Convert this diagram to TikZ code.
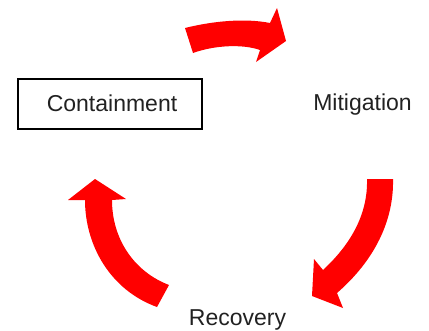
\documentclass[tikz,border=0pt]{standalone}
\usepackage{fontspec}
\setmainfont{Liberation Sans}
\begin{document}
\begin{tikzpicture}[x=1pt,y=-1pt,
  lbl/.style={font=\fontsize{23}{27}\selectfont, text=black!87, inner sep=0pt, anchor=base},
  cyc/.style={fill=red, draw=none}]
\useasboundingbox (0,0) rectangle (429,330);
% labels
\draw[line width=1.4pt] (18,79) rectangle (202,129);
\node[lbl] (cont) at (112,111) {Containment};
\node[lbl] (mit) at (362.5,110) {Mitigation};
\node[lbl] (rec) at (237.5,325) {Recovery};
% top arrow
\fill[cyc] (185,28) .. controls (213,21) and (245,18) .. (270,23)
  -- (277,8) -- (286,41) -- (256,62) -- (260,50)
  .. controls (243,44) and (215,45) .. (193,53) -- cycle;
% right arrow
\fill[cyc] (393,179) .. controls (394,220) and (375,260) .. (337,293)
  -- (343,308) -- (312,296) -- (314,259) -- (323,270)
  .. controls (350,245) and (368,215) .. (367,179) -- cycle;
% left arrow
\fill[cyc] (157,307) .. controls (110,290) and (85,245) .. (85,200)
  -- (68,200) -- (95,179) -- (126,199) -- (112,200)
  .. controls (112,240) and (135,272) .. (169,285) -- cycle;
\end{tikzpicture}
\end{document}
